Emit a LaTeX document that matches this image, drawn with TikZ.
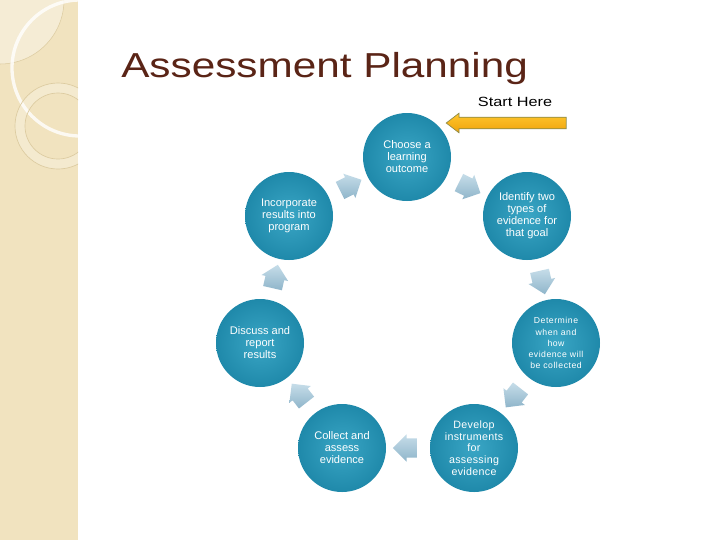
\documentclass[tikz,border=0pt]{standalone}
\usepackage{fontspec}
\setmainfont{Liberation Sans}
\newfontfamily\titlefont[FakeStretch=1.22]{Liberation Sans}
\usetikzlibrary{positioning,calc,shapes.arrows}
\definecolor{stageinner}{HTML}{3AA6C5}
\definecolor{stageouter}{HTML}{1F89AA}
\definecolor{titlebrown}{HTML}{5A2416}
\definecolor{stripe}{HTML}{F1E3BF}
\definecolor{stripeline}{HTML}{DCCBA0}
\definecolor{turntop}{HTML}{C6DDE9}
\definecolor{turnbottom}{HTML}{8FB5CA}
\definecolor{starttop}{HTML}{FFC82E}
\definecolor{startbottom}{HTML}{EFA10B}
\definecolor{startline}{HTML}{8A8A48}
\tikzset{font=\fontsize{8.3}{9}\selectfont}

\begin{document}
\begin{tikzpicture}[x=0.75pt,y=-0.75pt]
	\tikzstyle{stage}=[circle, minimum size=66pt, inner sep=0pt, align=center, text=white,
		inner color=stageinner, outer color=stageouter]
	\tikzstyle{turn}=[single arrow, inner xsep=0pt, inner ysep=7pt, minimum height=18pt,
		single arrow head extend=3pt, top color=turntop, bottom color=turnbottom,
		pos=0.46, sloped, allow upside down]
	\useasboundingbox (0,0) rectangle (720,540);
	\fill[white] (0,0) rectangle (720,540);

	% side stripe
	\fill[stripe] (0,0) rectangle (78,540);
	\begin{scope}
		\clip (0,0) rectangle (78,540);
		\fill[white, opacity=0.35] (0,0) circle (64);
		\draw[stripeline, line width=0.4pt] (0,0) circle (64);
		\draw[white, opacity=0.8, line width=2.5pt] (80,68) circle (68);
		\fill[white, opacity=0.25, even odd rule] (58,126) circle (43) (58,126) circle (33);
		\draw[stripeline, line width=0.5pt] (58,126) circle (43);
		\draw[stripeline, line width=0.5pt] (58,126) circle (33);
	\end{scope}

	% title
	\node[anchor=base west, inner sep=0pt, text=titlebrown, font=\titlefont\fontsize{26}{30}\selectfont] (title) at (121,77) {Assessment Planning};
	\node[font=\titlefont\fontsize{10}{12}\selectfont] (here) at (515,102) {Start Here};
	\node[single arrow, shape border rotate=180, inner xsep=0pt, inner ysep=4.1pt, minimum height=90pt,
		single arrow head extend=3pt, single arrow tip angle=75, top color=starttop, bottom color=startbottom,
		draw=startline, line width=0.5pt] (start) at (510,123) {};

	% cycle
	\node[stage] (c1) at (407,157) {Choose a\\learning\\outcome};
	\node[stage] (c2) at (527,216) {Identify two\\types of\\evidence for\\that goal};
	\node[stage, font=\fontsize{6.5}{8.3}\selectfont\addfontfeatures{LetterSpace=6}] (c3) at (556,343) {Determine\\when and\\how\\evidence will\\be collected};
	\node[stage, font=\fontsize{8}{8.8}\selectfont\addfontfeatures{LetterSpace=3}] (c4) at (474,448) {Develop\\instruments\\for\\assessing\\evidence};
	\node[stage] (c5) at (342,448) {Collect and\\assess\\evidence};
	\node[stage] (c6) at (260,343) {Discuss and\\report\\results};
	\node[stage] (c7) at (289,216) {Incorporate\\results into\\program};

	\path (c1) -- (c2) node[turn] (t12) {};
	\path (c2) -- (c3) node[turn] (t23) {};
	\path (c3) -- (c4) node[turn] (t34) {};
	\path (c4) -- (c5) node[turn] (t45) {};
	\path (c5) -- (c6) node[turn] (t56) {};
	\path (c6) -- (c7) node[turn] (t67) {};
	\path (c7) -- (c1) node[turn] (t71) {};
\end{tikzpicture}
\end{document}
